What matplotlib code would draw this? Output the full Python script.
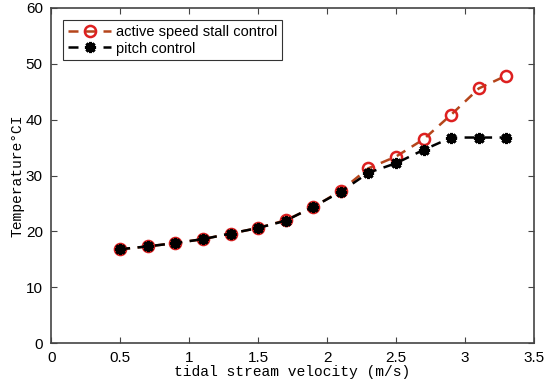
import numpy as np
import matplotlib.pyplot as plt

# tidal stream velocity (m/s)
velocity = [0.5, 0.7, 0.9, 1.1, 1.3, 1.5, 1.7, 1.9, 2.1, 2.3, 2.5, 2.7, 2.9, 3.1, 3.3]
# temperature readings
temp_stall = [16.8, 17.3, 17.9, 18.6, 19.6, 20.6, 22.0, 24.3, 27.3, 31.3, 33.4, 36.5, 40.9, 45.6, 47.9]
temp_pitch = [16.8, 17.3, 17.9, 18.6, 19.6, 20.6, 21.9, 24.4, 27.1, 30.5, 32.2, 34.6, 36.8, 36.8, 36.8]

plt.rcParams['font.family'] = ['Liberation Sans', 'DejaVu Sans']

fig = plt.figure(figsize=(5.5, 3.9), dpi=100)
ax = fig.add_axes([0.093, 0.1205, 0.878, 0.859])

ax.plot(velocity, temp_stall, '--', color='#b5451b', lw=1.8, dashes=(4, 3),
        marker='o', ms=8, mfc='none', mec='#dd2020', mew=1.8,
        label='active speed stall control')
ax.plot(velocity, temp_pitch, '--', color='black', lw=1.8, dashes=(4, 3),
        marker=(8, 2, 0), ms=8, mec='black', mew=2.2,
        label='pitch control')

ax.set_xlim(0, 3.5)
ax.set_ylim(0, 60)
ax.set_xticks(np.arange(0, 3.51, 0.5))
ax.set_xticklabels(['0', '0.5', '1', '1.5', '2', '2.5', '3', '3.5'])
ax.set_yticks(np.arange(0, 61, 10))
ax.tick_params(direction='in', top=True, right=True, labelsize=11, length=4,
               color='#444444', pad=6)
for s in ax.spines.values():
    s.set_color('#444444')
    s.set_linewidth(1.2)

ax.set_xlabel('tidal stream velocity (m/s)', family='Liberation Mono', fontsize=10.5, labelpad=0)
ax.set_ylabel('Temperature°CI', family='Liberation Mono', fontsize=10.5, labelpad=1)

leg = ax.legend(loc='upper left', fontsize=10.5, frameon=True, fancybox=False,
                edgecolor='black', handlelength=3, borderpad=0.3, labelspacing=0.2,
                handletextpad=0.3, bbox_to_anchor=(0.01, 0.985))
leg.get_frame().set_linewidth(0.8)

plt.savefig('out.png', dpi=100)
